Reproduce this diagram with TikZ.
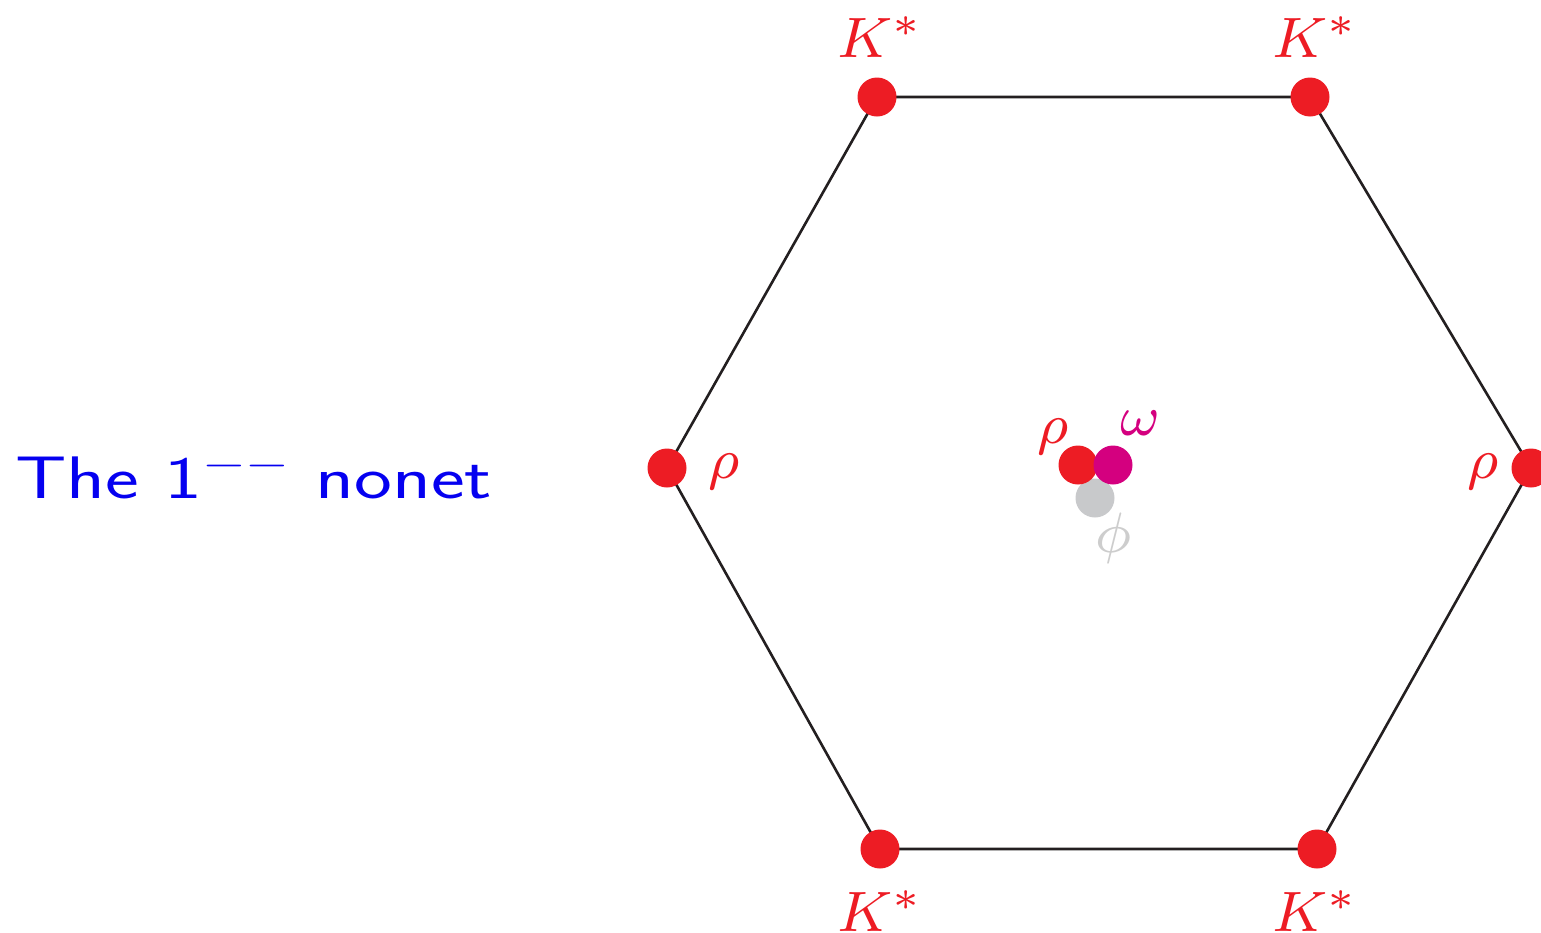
\RequirePackage{fix-cm}
\documentclass[tikz,border=0pt]{standalone}
\definecolor{pred}{RGB}{237,28,36}
\definecolor{pmag}{RGB}{212,0,127}
\definecolor{pgrey}{RGB}{200,201,203}
\definecolor{plgrey}{RGB}{205,205,205}
\definecolor{pblue}{RGB}{5,0,240}
\definecolor{pline}{RGB}{35,31,32}
\newcommand{\biglbl}[1]{\scalebox{7.125}{\fontsize{8}{10}\selectfont #1}}
\tikzset{
  dot/.style={circle, inner sep=0pt, minimum size=39pt, fill=#1, draw=none},
  lbl/.style={anchor=base, inner sep=0pt, text=#1},
  edge/.style={draw=pline, line width=2.6pt},
}
\begin{document}
\begin{tikzpicture}[x=1pt,y=-1pt]
\useasboundingbox (0,0) rectangle (1541,932);
% vertices
\coordinate (L) at (667,468);
\coordinate (TL) at (877,97);
\coordinate (TR) at (1310,97);
\coordinate (R) at (1531,468);
\coordinate (BR) at (1317,849);
\coordinate (BL) at (880,849);
\draw[edge] (L) -- (TL) -- (TR) -- (R) -- (BR) -- (BL) -- cycle;
% outer dots
\node[dot=pred] (dL) at (L) {};
\node[dot=pred] (dTL) at (TL) {};
\node[dot=pred] (dTR) at (TR) {};
\node[dot=pred] (dR) at (R) {};
\node[dot=pred] (dBR) at (BR) {};
\node[dot=pred] (dBL) at (BL) {};
% center dots
\node[dot=pgrey] (dphi) at (1095,498) {};
\node[dot=pred] (drho) at (1078,465) {};
\node[dot=pmag] (domega) at (1113,465) {};
% labels
\node[lbl=pred] (lTL) at (880,57) {\biglbl{$K^*$}};
\node[lbl=pred] (lTR) at (1315,57) {\biglbl{$K^*$}};
\node[lbl=pred] (lBL) at (880,931) {\biglbl{$K^*$}};
\node[lbl=pred] (lBR) at (1315,931) {\biglbl{$K^*$}};
\node[lbl=pred] (lL) at (724,478) {\biglbl{$\rho$}};
\node[lbl=pred] (lR) at (1483,478) {\biglbl{$\rho$}};
\node[lbl=pred] (lrho) at (1053,443) {\biglbl{$\rho$}};
\node[lbl=pmag] (lomega) at (1140,435) {\biglbl{$\omega$}};
\node[lbl=plgrey] (lphi) at (1113,552) {\biglbl{$\phi$}};
% title
\node[anchor=base west, inner sep=0pt, text=pblue, font=\sffamily\fontsize{60}{66}\selectfont] (title) at (15,498)
  {\scalebox{1.34}[1]{The 1$^{--}$ nonet}};
\end{tikzpicture}
\end{document}
